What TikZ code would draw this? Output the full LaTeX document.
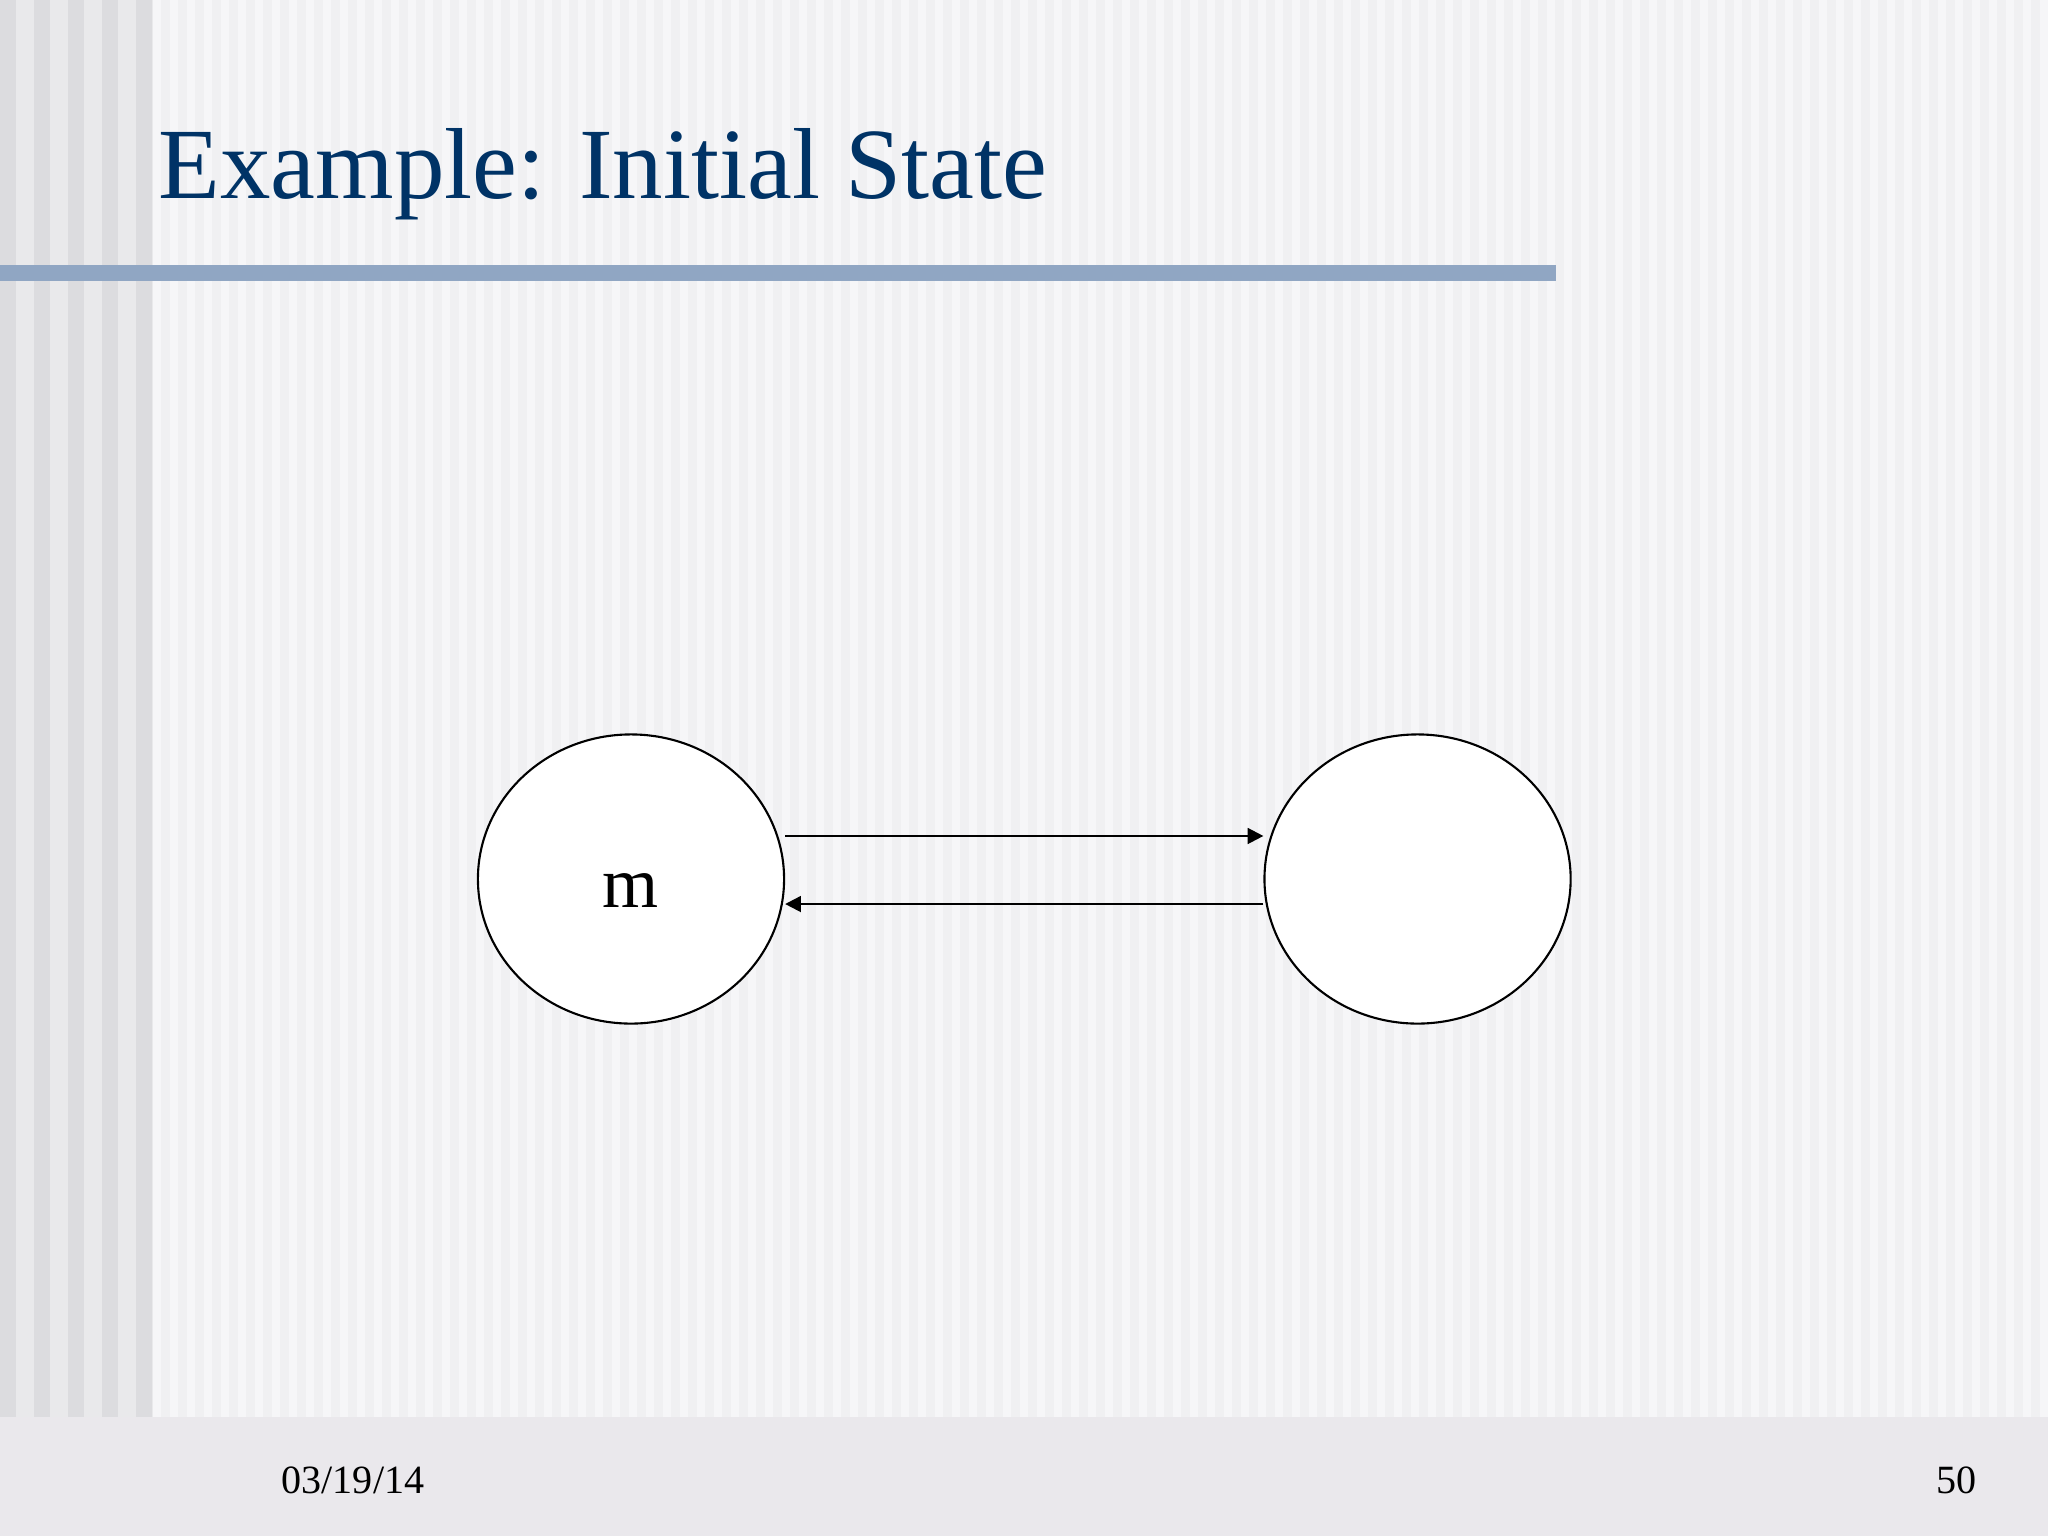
\documentclass[tikz,border=0pt]{standalone}
\usepackage{fontspec}
\setmainfont{Liberation Serif}
\usetikzlibrary{positioning,shapes.geometric,arrows.meta}
\definecolor{titleblue}{RGB}{0,51,102}
\definecolor{barblue}{RGB}{144,166,195}
\definecolor{slidebg}{RGB}{240,240,242}
\definecolor{stripelight}{RGB}{246,246,248}
\definecolor{leftdark}{RGB}{220,220,223}
\definecolor{leftlight}{RGB}{233,233,235}
\definecolor{footbg}{RGB}{234,232,236}

\begin{document}
\begin{tikzpicture}[x=0.01cm, y=-0.01cm,
                    statenode/.style={ellipse, draw=black, fill=white, line width=0.6pt, inner sep=0pt,
                                      minimum width=3.06cm, minimum height=2.89cm, font=\fontsize{20.5}{24}\selectfont},
                    link/.style={-{Triangle[length=4.5pt, width=4.5pt]}, line width=0.65pt},]
    % background
    \useasboundingbox (0,0) rectangle (2048,1536);
    \fill[slidebg] (0,0) rectangle (2048,1417);
    \foreach \x in {153,170,...,2048}
        \fill[stripelight] (\x,0) rectangle ++(8,1417);
    \fill[leftlight] (0,0) rectangle (153,1417);
    \foreach \x in {0,34,68,102,136}
        \fill[leftdark] (\x,0) rectangle ++(16,1417);
    \fill[footbg] (0,1417) rectangle (2048,1536);
    \fill[barblue] (0,265) rectangle (1556,281);
    % texts
    \node[anchor=base west, inner sep=0pt, text=titleblue, font=\fontsize{28.7}{35}\selectfont]
        (title) at (158,198) {Example: Initial State};
    \node[anchor=base west, inner sep=0pt, font=\fontsize{11.4}{14}\selectfont] (date) at (281,1493) {03/19/14};
    \node[anchor=base east, inner sep=0pt, font=\fontsize{11.4}{14}\selectfont] (page) at (1977,1493) {50};
    % nodes
    \node[statenode, text height=0.56cm] (M) at (631,879) {m};
    \node[statenode]                     (N) [right=4.78cm of M] {};
    % lines
    \draw[link] ([yshift=0.43cm]M.east) -- ([yshift=0.43cm]N.west);
    \draw[link] ([yshift=-0.25cm]N.west) -- ([yshift=-0.25cm]M.east);
\end{tikzpicture}
\end{document}
